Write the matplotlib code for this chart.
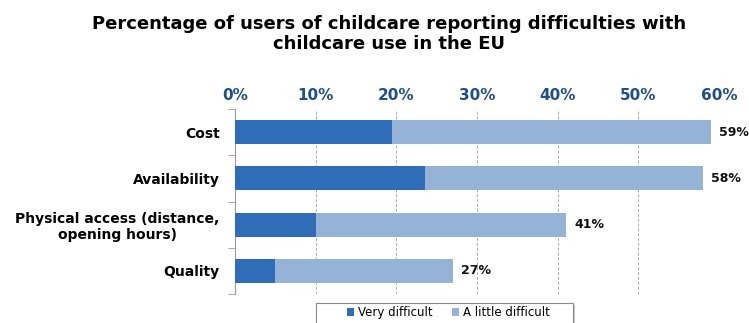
import numpy as np
import matplotlib.pyplot as plt
from matplotlib.patches import Rectangle
from matplotlib.ticker import MultipleLocator, FuncFormatter

# ---------- data -------------------------------------------------------------
categories = ["Cost", "Availability", "Physical access (distance,\nopening hours)", "Quality"]
very_difficult = [19.5, 23.5, 10, 5]
little_difficult = [39.5, 34.5, 31, 22]
totals = [59, 58, 41, 27]
series_names = ["Very difficult", "A little difficult"]

DARK = "#2F6DB8"
LIGHT = "#95B3D7"
TICK_BLUE = "#1F4E8C"

fig = plt.figure(figsize=(7.49, 3.23), dpi=100)
ax = fig.add_axes([0.3137, 0.0898, 0.6462, 0.5727])

y = np.arange(len(categories))
h = 0.52
ax.barh(y, very_difficult, height=h, color=DARK, label=series_names[0], zorder=3)
ax.barh(y, little_difficult, left=very_difficult, height=h, color=LIGHT,
        label=series_names[1], zorder=3)

for yi, tot in zip(y, totals):
    ax.annotate(f"{tot}%", xy=(tot, yi), xytext=(6, 0), textcoords="offset points",
                va="center", ha="left", fontsize=9, fontweight="bold", color="#111111")

# ---- axes cosmetics ----
ax.set_xlim(0, 60)
ax.set_ylim(len(categories) - 0.5, -0.5)
ax.xaxis.tick_top()
ax.xaxis.set_major_locator(MultipleLocator(10))
ax.xaxis.set_major_formatter(FuncFormatter(lambda v, _: f"{int(v)}%"))
ax.tick_params(axis="x", length=0, labelsize=11, labelcolor=TICK_BLUE, pad=4)
for lbl in ax.get_xticklabels():
    lbl.set_fontweight("bold")

ax.set_yticks(y)
ax.set_yticklabels(categories, fontsize=10, fontweight="bold")
for lbl in ax.get_yticklabels():
    lbl.set_multialignment("center")
ax.tick_params(axis="y", which="major", length=0, pad=11)
ax.set_yticks(np.arange(-0.5, len(categories), 1.0), minor=True)
ax.tick_params(axis="y", which="minor", length=5, color="#999999", direction="out")

for s in ["top", "right", "bottom"]:
    ax.spines[s].set_visible(False)
ax.spines["left"].set_color("#999999")

ax.grid(True, axis="x", linestyle=(0, (3, 2)), linewidth=0.7, color="#AAAAAA", zorder=0)

fig.text(0.52, 0.895, "Percentage of users of childcare reporting difficulties with\nchildcare use in the EU",
         ha="center", va="center", fontsize=13, fontweight="bold", linespacing=1.1)

# ---- legend: wide box with drop shadow, running off the bottom edge ----
bx, by, bw, bh = 0.4219, -0.05, 0.3431, 0.1119
ax.add_patch(Rectangle((bx + 0.003, by - 0.006), bw, bh, transform=fig.transFigure,
                       facecolor="#C8C8C8", edgecolor="none", zorder=6, clip_on=False))
ax.add_patch(Rectangle((bx, by), bw, bh, transform=fig.transFigure, facecolor="white",
                       edgecolor="#8A8A8A", linewidth=0.8, zorder=7, clip_on=False))
leg = ax.legend(loc="center", bbox_to_anchor=(0.441, -0.1), ncol=2, fontsize=8.5,
                frameon=False, handlelength=0.6, handleheight=0.6, handletextpad=0.3,
                columnspacing=1.7, borderaxespad=0)
leg.set_zorder(10)

fig.savefig("out.png", dpi=100)
